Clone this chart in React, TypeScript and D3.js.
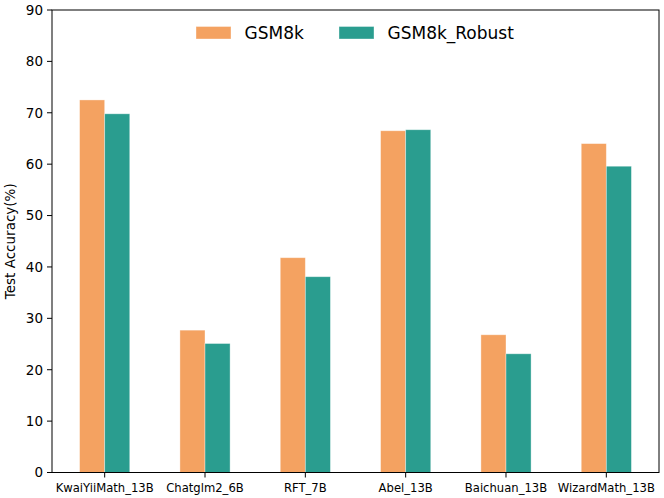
import { useMemo } from "react";
import * as d3 from "d3";

// ── Data ──────────────────────────────────────────────────────────────────
const models = [
  "KwaiYiiMath_13B",
  "Chatglm2_6B",
  "RFT_7B",
  "Abel_13B",
  "Baichuan_13B",
  "WizardMath_13B",
];
const gsm8k = [72.5, 27.7, 41.8, 66.5, 26.8, 64.0];
const gsm8kRobust = [69.8, 25.1, 38.1, 66.7, 23.1, 59.6];
const seriesNames = ["GSM8k", "GSM8k_Robust"];
const seriesColors = ["#F4A261", "#2A9D8F"];
const yTicks = [0, 10, 20, 30, 40, 50, 60, 70, 80, 90];

const WIDTH = 664;
const HEIGHT = 498;
const PLOT = { left: 52, right: 659, top: 10, bottom: 472.5 };
const BAR_W = 0.25;
const FONT = "'DejaVu Sans', sans-serif";

export default function App() {
  const x = useMemo(
    () =>
      d3
        .scaleLinear()
        .domain([-0.525, models.length - 1 + 0.525])
        .range([PLOT.left, PLOT.right]),
    []
  );
  const y = useMemo(
    () => d3.scaleLinear().domain([0, 90]).range([PLOT.bottom, PLOT.top]),
    []
  );

  const series = [gsm8k, gsm8kRobust];
  const barPx = x(BAR_W) - x(0);

  return (
    <svg
      width={WIDTH}
      height={HEIGHT}
      style={{ position: "absolute", left: 0, top: 0, background: "#fff" }}
      fontFamily={FONT}
    >
      {/* bars */}
      {series.map((vals, si) =>
        vals.map((v, i) => {
          const x0 = x(i + (si - 1) * BAR_W);
          return (
            <rect
              key={`${si}-${i}`}
              x={x0}
              y={y(v)}
              width={barPx}
              height={y(0) - y(v)}
              fill={seriesColors[si]}
              stroke="#ffffff"
              strokeOpacity={0.45}
              strokeWidth={0.8}
            />
          );
        })
      )}

      {/* frame */}
      <rect
        x={PLOT.left}
        y={PLOT.top}
        width={PLOT.right - PLOT.left}
        height={PLOT.bottom - PLOT.top}
        fill="none"
        stroke="#000"
        strokeWidth={1}
      />

      {/* y axis ticks */}
      {yTicks.map((t) => (
        <g key={t} transform={`translate(0,${y(t)})`}>
          <line x1={PLOT.left - 5} x2={PLOT.left} stroke="#000" strokeWidth={1} />
          <text
            x={PLOT.left - 9}
            dy="0.36em"
            textAnchor="end"
            fontSize={13.5}
            fill="#000"
          >
            {t}
          </text>
        </g>
      ))}

      {/* x axis ticks */}
      {models.map((m, i) => (
        <g key={m} transform={`translate(${x(i)},0)`}>
          <line y1={PLOT.bottom} y2={PLOT.bottom + 5} stroke="#000" strokeWidth={1} />
          <text y={PLOT.bottom + 19} textAnchor="middle" fontSize={11.6} fill="#000">
            {m}
          </text>
        </g>
      ))}

      {/* y label */}
      <text
        transform={`translate(15,${(PLOT.top + PLOT.bottom) / 2}) rotate(-90)`}
        textAnchor="middle"
        fontSize={13.5}
        fill="#000"
      >
        Test Accuracy(%)
      </text>

      {/* legend */}
      {seriesNames.map((name, si) => {
        const lx = si === 0 ? 196 : 339;
        return (
          <g key={name}>
            <rect
              x={lx}
              y={26.5}
              width={35}
              height={12.5}
              fill={seriesColors[si]}
              stroke="#ffffff"
              strokeOpacity={0.45}
              strokeWidth={0.8}
            />
            <text x={lx + 48.5} y={39} fontSize={17} fill="#000">
              {name}
            </text>
          </g>
        );
      })}
    </svg>
  );
}
